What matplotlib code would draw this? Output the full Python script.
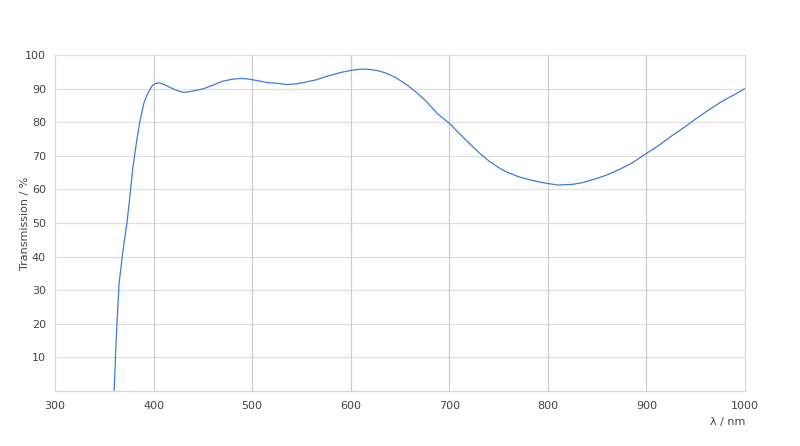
import matplotlib
matplotlib.use("Agg")
import matplotlib.pyplot as plt

# wavelength (nm) and transmission (%)
wavelength = [360, 362, 365, 369, 373, 376, 379, 383, 386, 390, 393, 396, 399,
              402, 406, 410, 415, 420, 425, 430, 435, 440, 450, 460, 470, 480,
              488, 495, 505, 515, 525, 535, 545, 555, 565, 575, 590, 600, 610,
              620, 628, 635, 645, 657, 667, 677, 688, 700, 710, 720, 731, 740,
              750, 758, 770, 782, 795, 810, 825, 835, 850, 860, 873, 885, 900,
              912, 927, 940, 951, 963, 976, 988, 1000]
transmission = [0, 15, 32, 42, 50, 58, 66.5, 74.7, 80, 85.5, 87.8, 89.6, 91,
                91.5, 91.7, 91.3, 90.6, 89.9, 89.3, 88.9, 89, 89.3, 89.9, 91,
                92.2, 92.8, 93, 92.9, 92.4, 91.8, 91.6, 91.2, 91.4, 92, 92.6,
                93.6, 94.8, 95.4, 95.8, 95.7, 95.3, 94.7, 93.4, 91.1, 88.8,
                86.1, 82.5, 79.7, 76.7, 73.8, 70.7, 68.5, 66.5, 65.2, 63.8,
                62.8, 62, 61.3, 61.5, 62, 63.3, 64.3, 66, 67.8, 70.7, 73,
                76.2, 78.8, 81.2, 83.6, 86.1, 88, 90]

x_ticks = [300, 400, 500, 600, 700, 800, 900, 1000]
y_ticks = [10, 20, 30, 40, 50, 60, 70, 80, 90, 100]

fig = plt.figure(figsize=(8, 4.46), dpi=100)
ax = fig.add_axes([55 / 800, 1 - 391 / 446, 690 / 800, 336 / 446])

ax.plot(wavelength, transmission, color="#3b7dd8", lw=0.9)

ax.set_xlim(300, 1000)
ax.set_ylim(0, 100)
ax.set_xticks(x_ticks)
ax.set_yticks(y_ticks)
ax.tick_params(length=0, labelsize=8, labelcolor="#444444")
ax.tick_params(axis="x", pad=7)
ax.tick_params(axis="y", pad=6.5)

for y in y_ticks:
    ax.axhline(y, color="#e0e0e0", lw=0.9, zorder=0)
for x in x_ticks[1:-1]:
    ax.axvline(x, color="#cccccc", lw=0.9, zorder=0)

for side in ("left", "bottom", "right"):
    ax.spines[side].set_color("#d9d9d9")
    ax.spines[side].set_linewidth(0.9)
ax.spines["top"].set_visible(False)

ax.set_ylabel("Transmission / %", fontsize=8, color="#444444")
ax.yaxis.set_label_coords(-25 / 690, 0.5)
fig.text(745 / 800, 1 - 422 / 446, "λ / nm", fontsize=8, color="#444444",
         ha="right", va="center")

fig.savefig("out.png", dpi=100)
